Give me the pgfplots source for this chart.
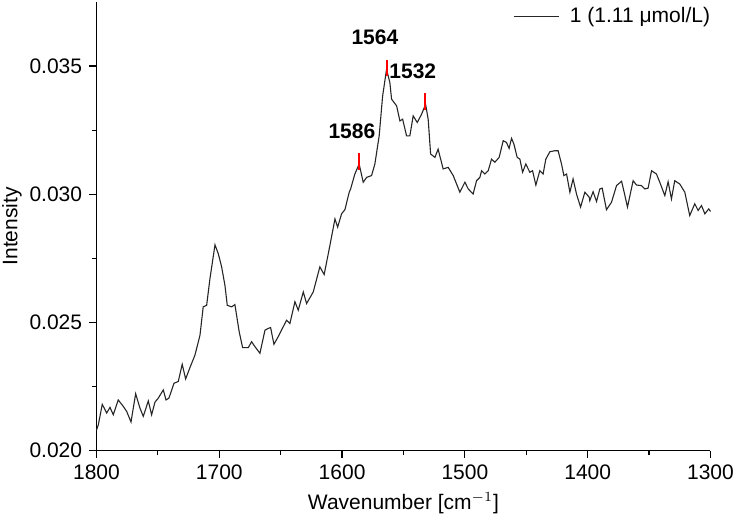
\documentclass[border=0pt]{standalone}
\usepackage{fontspec}
\setmainfont{Liberation Sans}
\usepackage{pgfplots}
\pgfplotsset{compat=1.18}

\begin{document}
\fontsize{10.5}{12.5}\selectfont
\begin{tikzpicture}
\begin{axis}[
  name=ax,
  width=307pt, height=224.35pt,
  scale only axis,
  xmin=1300, xmax=1800, x dir=reverse,
  ymin=0.020, ymax=0.0375,
  xtick={1300,1400,1500,1600,1700,1800},
  ytick={0.020,0.025,0.030,0.035},
  minor x tick num=1, minor y tick num=1,
  axis x line*=bottom, axis y line*=left,
  axis line style={line width=0.8pt},
  tick align=outside,
  major tick length=3.5pt, minor tick length=2.2pt,
  tick style={line width=0.6pt, black},
  scaled y ticks=false,
  xticklabel style={/pgf/number format/.cd, set thousands separator={}},
  yticklabel style={/pgf/number format/.cd, fixed, fixed zerofill, precision=3},
  /pgf/number format/assume math mode=true,
  xlabel={Wavenumber [cm$^{-1}$]},
  ylabel={Intensity},
  xlabel style={at={(axis description cs:0.5,-0.1164)}, anchor=center},
  ylabel style={at={(axis description cs:-0.1376,0.5)}, anchor=center},
  legend style={draw=none, fill=none, at={(1,1)}, anchor=north east, xshift=5pt, yshift=1.5pt,
    column sep=3pt, font=\fontsize{10.5}{12.5}\selectfont},
  legend image code/.code={\draw[#1] (0cm,0cm) -- (0.8cm,0cm);},
  clip=false,
]
\addplot[black!85, line width=0.55pt] coordinates {
(1800,0.02080) (1798.5,0.02101) (1795.3,0.02181) (1791.7,0.02147) (1789.0,0.02169)
(1786.3,0.02140) (1782.3,0.02198) (1778.2,0.02173) (1775.4,0.02153) (1771.9,0.02112)
(1768.1,0.02222) (1764.6,0.02166) (1761.9,0.02134) (1757.8,0.02194) (1755.1,0.02140)
(1752.4,0.02189) (1749.7,0.02205) (1745.6,0.02237) (1743.4,0.02198) (1741.0,0.02205)
(1736.9,0.02263) (1733.4,0.02270) (1730.2,0.02337) (1727.4,0.02280) (1723.9,0.02324)
(1719.8,0.02373) (1715.7,0.02451) (1713.1,0.02561) (1710.3,0.02567) (1707.6,0.02671)
(1703.5,0.02803) (1700.8,0.02768) (1698.1,0.02717) (1695.4,0.02645) (1693.5,0.02567)
(1689.9,0.02561) (1687.3,0.02570) (1683.8,0.02464) (1681.0,0.02402) (1676.4,0.02402)
(1673.7,0.02425) (1671.0,0.02406) (1666.9,0.02380) (1662.8,0.02470) (1660.1,0.02477)
(1658.2,0.02480) (1655.5,0.02415) (1652.0,0.02445) (1645.2,0.02509) (1642.5,0.02496)
(1638.4,0.02581) (1635.7,0.02548) (1631.6,0.02619) (1628.9,0.02574) (1623.5,0.02619)
(1618.1,0.02717) (1614.6,0.02687) (1609.9,0.02801) (1605.8,0.02904) (1603.6,0.02872)
(1600.4,0.02924) (1597.7,0.02940) (1594.2,0.03008) (1593.1,0.03020) (1589.6,0.03079)
(1586.1,0.03118) (1582.8,0.03047) (1580.0,0.03066) (1576.0,0.03073) (1573.3,0.03118)
(1569.8,0.03228) (1567.0,0.03383) (1563.8,0.03487) (1561.1,0.03436) (1559.7,0.03371)
(1555.6,0.03345) (1552.9,0.03286) (1550.7,0.03293) (1547.5,0.03228) (1544.8,0.03228)
(1542.1,0.03306) (1538.8,0.03280) (1535.3,0.03312) (1532.0,0.03351) (1529.9,0.03293)
(1527.9,0.03157) (1524.4,0.03144) (1521.8,0.03176) (1517.7,0.03099) (1513.6,0.03105)
(1509.5,0.03073) (1504.1,0.03008) (1500.0,0.03047) (1497.3,0.03021) (1493.3,0.03001)
(1490.5,0.03053) (1487.8,0.03066) (1486.4,0.03092) (1483.7,0.03079) (1481.0,0.03092)
(1478.3,0.03137) (1475.6,0.03125) (1472.1,0.03144) (1468.8,0.03209) (1466.1,0.03202)
(1464.0,0.03179) (1462.0,0.03218) (1460.1,0.03196) (1457.4,0.03144) (1455.2,0.03137)
(1453.0,0.03086) (1450.4,0.03118) (1447.1,0.03086) (1444.9,0.03092) (1442.2,0.03036)
(1439.0,0.03092) (1436.3,0.03079) (1434.1,0.03137) (1430.8,0.03166) (1426.7,0.03170)
(1424.1,0.03170) (1421.3,0.03118) (1419.4,0.03073) (1417.2,0.03079) (1414.5,0.03008)
(1411.9,0.03060) (1409.1,0.03001) (1405.8,0.02950) (1402.3,0.03008) (1398.8,0.02989)
(1398.3,0.02975) (1395.6,0.03010) (1392.8,0.02972) (1390.1,0.03021) (1388.2,0.03024)
(1384.7,0.02940) (1380.6,0.02969) (1376.5,0.03034) (1372.4,0.03051) (1370.3,0.03008)
(1367.6,0.02950) (1363.0,0.03053) (1360.2,0.03036) (1356.2,0.03034) (1353.5,0.03021)
(1350.8,0.03024) (1348.0,0.03092) (1344.0,0.03079) (1341.3,0.03047) (1337.2,0.02995)
(1334.5,0.03049) (1331.8,0.02982) (1329.1,0.03053) (1325.0,0.03040) (1320.9,0.03008)
(1316.9,0.02917) (1312.8,0.02963) (1310.1,0.02937) (1307.3,0.02956) (1304.6,0.02924)
(1301.4,0.02943) (1300.0,0.02933)
};
\addlegendentry{1 (1.11 μmol/L)}
\addplot[red, line width=1pt, forget plot] coordinates {(1586.1,0.03095) (1586.1,0.03160)};
\addplot[red, line width=1pt, forget plot] coordinates {(1563.8,0.03460) (1563.8,0.03525)};
\addplot[red, line width=1pt, forget plot] coordinates {(1532.2,0.03330) (1532.2,0.03395)};
\node[font=\bfseries] at (axis cs:1573.3,0.03612) {1564};
\node[font=\bfseries] at (axis cs:1542.4,0.03479) {1532};
\node[font=\bfseries] at (axis cs:1592.0,0.03246) {1586};
\end{axis}
\pgfresetboundingbox
\path ([shift={(-48.25pt,-34.15pt)}]ax.south west) rectangle ([shift={(12.25pt,1pt)}]ax.north east);
\end{tikzpicture}
\end{document}
